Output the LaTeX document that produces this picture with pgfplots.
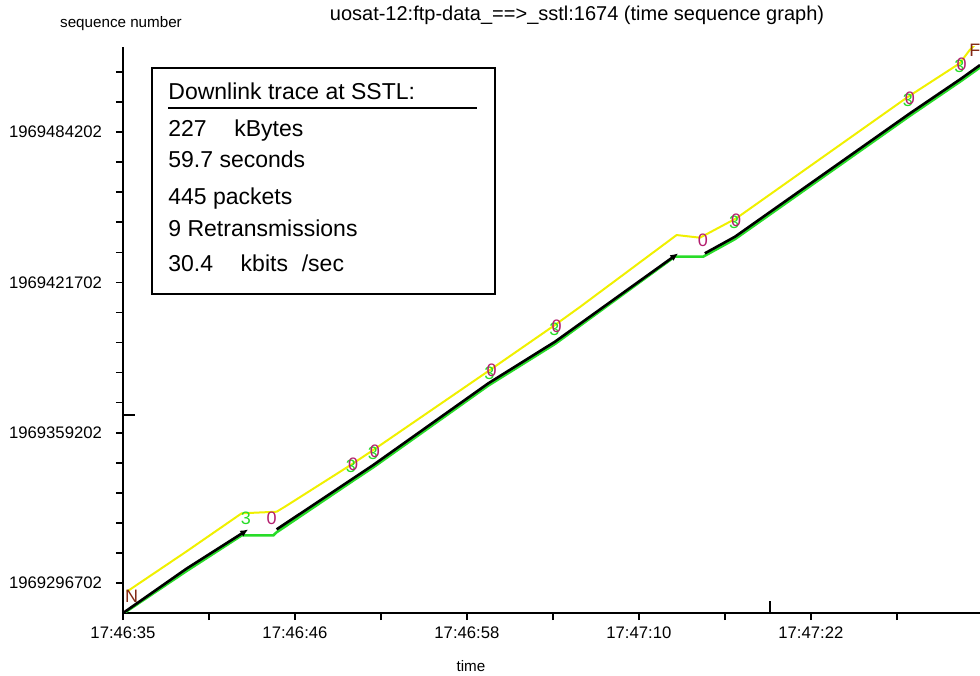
\documentclass[border=0pt]{standalone}
\usepackage{fontspec}
\setmainfont{Liberation Sans}
\usepackage{pgfplots}
\pgfplotsset{compat=1.18}
\usetikzlibrary{arrows.meta}
\definecolor{yel}{RGB}{240,240,0}
\definecolor{grn}{RGB}{40,220,40}
\definecolor{mag}{RGB}{180,30,110}
\definecolor{brn}{RGB}{130,40,20}
\begin{document}
\begin{tikzpicture}
\path[use as bounding box] (0,0) rectangle (490pt,337.5pt);
\begin{axis}[
  at={(61.5pt,31pt)}, anchor=south west,
  scale only axis, width=428.5pt, height=283pt,
  xmin=0, xmax=59.8, ymin=-12475, ymax=222900,
  scaled x ticks=false, scaled y ticks=false,
  axis lines=left,
  axis line style={-, line width=0.9pt},
  every outer x axis line/.append style={-},
  every outer y axis line/.append style={-},
  tick align=outside, major tick length=3.5pt, minor tick length=3.5pt,
  tick style={line width=0.8pt, black},
  xtick={0,12,24,36,48},
  xticklabels={17:46:35,17:46:46,17:46:58,17:47:10,17:47:22},
  minor xtick={6,18,30,42,54},
  ytick={0,62500,125000,187500},
  yticklabels={1969296702,1969359202,1969421702,1969484202},
  minor ytick={12500,25000,37500,50000,75000,87500,100000,112500,137500,150000,162500,175000,200000,212500},
  extra x ticks={45.14}, extra x tick labels={},
  extra x tick style={tick align=inside, major tick length=6pt},
  extra y ticks={69850}, extra y tick labels={},
  extra y tick style={tick align=inside, major tick length=6pt},
  ticklabel style={font=\fontsize{8.35}{10}\selectfont},
  yticklabel style={xshift=-3.5pt},
  clip mode=individual,
]
% yellow: receive window
\addplot[yel, line width=1pt] coordinates {
(0.26,-3617) (4.4,13000) (8.28,28981) (10.72,29647) (11.30,31726)
(16.07,49771) (17.46,55301) (25.60,88565) (30.14,107300) (31.88,114761)
(38.63,144698) (40.26,143600) (42.79,151642) (54.78,202204) (58.38,216091)
(59.08,221621) (59.8,226000)};
% green: ack line
\addplot[grn, line width=1.3pt] coordinates {
(0.1,-12400) (4.44,5000) (8.28,19800) (10.49,19800) (10.72,21100)
(16.07,42600) (17.46,48100) (25.49,82100) (30.14,99400) (38.5,135700)
(40.48,135700) (40.6,136100) (42.70,143000) (54.91,194300) (58.51,208900)
(59.8,214400)};
% black: data segments
\addplot[black, line width=1.3pt, -{Latex[length=4pt,width=3.5pt]}] coordinates {
(0.05,-12300) (4.44,6000) (8.74,22300)};
\addplot[black, line width=1.3pt, -{Latex[length=4pt,width=3.5pt]}] coordinates {
(10.72,22300) (16.07,43534) (17.46,49064) (25.49,83035) (30.14,100333) (38.74,137089)};
\addplot[black, line width=1.3pt] coordinates {
(40.60,137089) (42.70,143992) (54.91,195301) (58.51,209854) (59.8,215384)};
% event markers
\addplot[only marks, mark=text, text mark={\color{brn}\fontsize{9}{9}\selectfont N}] coordinates {(0.61,-5696)};
\addplot[only marks, mark=text, text mark={\color{grn}\fontsize{9}{9}\selectfont 3}] coordinates {
(8.58,27027) (15.9,48600) (17.43,54000) (25.57,87400) (30.1,105700) (42.64,150100) (54.76,200800) (58.36,214900)};
\addplot[only marks, mark=text, text mark={\color{mag}\fontsize{9}{9}\selectfont 0}] coordinates {
(10.37,27027) (16.05,49480) (17.58,54886) (25.72,88274) (30.25,106569) (40.47,142619) (42.79,150935) (54.91,201663) (58.51,215800)};
\addplot[only marks, mark=text, text mark={\color{brn}\fontsize{9}{9}\selectfont F}] coordinates {(59.45,221600)};
\end{axis}
\begin{scope}[x=0.5pt, y=-0.5pt, yshift=337.5pt]
\node[font=\fontsize{10}{12}\selectfont] at (577,15) {uosat-12:ftp-data\_==>\_sstl:1674 (time sequence graph)};
\node[font=\fontsize{7.6}{9}\selectfont] at (121,24) {sequence number};
\node[font=\fontsize{7.6}{9}\selectfont] at (471,666) {time};
\draw[line width=1pt] (152,68) rectangle (495,294);
\draw[line width=1pt] (168,108) -- (477,108);
\begin{scope}[every node/.style={anchor=base west, inner sep=0pt, font=\fontsize{11.5}{13}\selectfont}]
\node at (168,100) {Downlink trace at SSTL:};
\node at (168,137) {227\hspace{1.2em}kBytes};
\node at (168,168) {59.7 seconds};
\node at (168,205) {445 packets};
\node at (168,237) {9 Retransmissions};
\node at (168,272) {30.4\hspace{1.2em}kbits\hspace{0.6em}/sec};
\end{scope}
\end{scope}
\end{tikzpicture}
\end{document}
